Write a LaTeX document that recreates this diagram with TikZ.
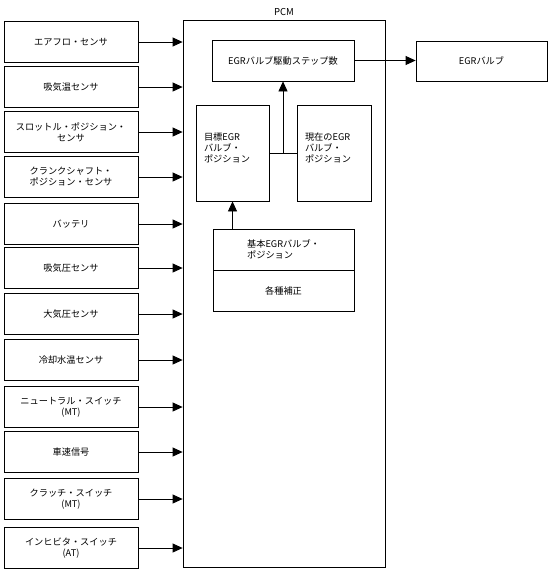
\documentclass[tikz,border=0pt]{standalone}
\usepackage{fontspec}
\setmainfont{Noto Sans CJK JP}
\usetikzlibrary{arrows.meta}

\begin{document}
\begin{tikzpicture}[
    x=1pt, y=-1pt,
    every node/.style={font=\fontsize{9.2}{11}\selectfont},
    box/.style={draw, line width=0.8pt, inner sep=0pt, align=center},
    inbox/.style={box, minimum width=134pt, minimum height=41pt},
    flow/.style={-{Triangle[length=10pt, width=9pt]}, line width=0.8pt},
]
    \useasboundingbox (0, 0) rectangle (551, 570);

    % sensors and switches
    \node[inbox] (airflow) at (71, 42) {エアフロ・センサ};
    \node[inbox] (intaketemp) at (71, 87) {吸気温センサ};
    \node[inbox] (throttle) at (71, 132) {スロットル・ポジション・\\センサ};
    \node[inbox] (crank) at (71, 177) {クランクシャフト・\\ポジション・センサ};
    \node[inbox] (battery) at (71, 224) {バッテリ};
    \node[inbox] (intakepress) at (71, 268) {吸気圧センサ};
    \node[inbox] (atmos) at (71, 314) {大気圧センサ};
    \node[inbox] (coolant) at (71, 360) {冷却水温センサ};
    \node[inbox] (neutral) at (71, 407) {ニュートラル・スイッチ\\(MT)};
    \node[inbox] (speed) at (71, 452) {車速信号};
    \node[inbox] (clutch) at (71, 499) {クラッチ・スイッチ\\(MT)};
    \node[inbox] (inhibitor) at (71, 548) {インヒビタ・スイッチ\\(AT)};

    % PCM and its inner blocks
    \node[box, minimum width=202pt, minimum height=547pt,
          label={[font=\fontsize{9.5}{11}\selectfont]above:PCM}]
        (pcm) at (284, 293.5) {};
    \node[box, minimum width=142pt, minimum height=41pt]
        (drive) at (283, 60.5) {EGRバルブ駆動ステップ数};
    \node[box, minimum width=71pt, minimum height=96pt, align=left,
          text width=57pt, inner xsep=8pt]
        (target) at (232.5, 153) {目標EGR\\バルブ・\\ポジション\\\mbox{}};
    \node[box, minimum width=72pt, minimum height=96pt, align=left,
          text width=58pt, inner xsep=8pt]
        (current) at (334, 153) {現在のEGR\\バルブ・\\ポジション\\\mbox{}};
    \node[box, minimum width=141pt, minimum height=41pt, align=left]
        (base) at (283.5, 249.5) {基本EGRバルブ・\\ポジション};
    \node[box, minimum width=141pt, minimum height=41pt]
        (correct) at (283.5, 290.5) {各種補正};
    \node[box, minimum width=131pt, minimum height=40pt]
        (valve) at (481.5, 61) {EGRバルブ};
    \coordinate (join) at (283, 153);

    \draw[flow] (airflow.east) -- (airflow.east -| pcm.west);
    \draw[flow] (intaketemp.east) -- (intaketemp.east -| pcm.west);
    \draw[flow] (throttle.east) -- (throttle.east -| pcm.west);
    \draw[flow] (crank.east) -- (crank.east -| pcm.west);
    \draw[flow] (battery.east) -- (battery.east -| pcm.west);
    \draw[flow] (intakepress.east) -- (intakepress.east -| pcm.west);
    \draw[flow] (atmos.east) -- (atmos.east -| pcm.west);
    \draw[flow] (coolant.east) -- (coolant.east -| pcm.west);
    \draw[flow] (neutral.east) -- (neutral.east -| pcm.west);
    \draw[flow] (speed.east) -- (speed.east -| pcm.west);
    \draw[flow] (clutch.east) -- (clutch.east -| pcm.west);
    \draw[flow] (inhibitor.east) -- (inhibitor.east -| pcm.west);

    \draw[line width=0.8pt] (target.east) -- (current.west);
    \draw[flow] (join) -- (drive.south);
    \draw[flow] (base.north -| target.south) -- (target.south);
    \draw[flow] (drive.east) -- (drive.east -| valve.west);
\end{tikzpicture}
\end{document}
